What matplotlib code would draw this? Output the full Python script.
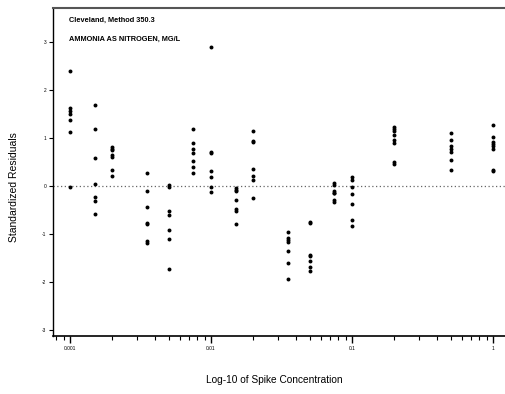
import matplotlib
matplotlib.use("Agg")
import matplotlib.pyplot as plt
from matplotlib.ticker import FixedLocator, NullFormatter, LogLocator

plt.rcParams['font.family'] = ['Liberation Sans', 'DejaVu Sans']

# Spike concentrations (mg/L) and standardized residuals at each level
concentrations = [0.001, 0.0015, 0.002, 0.0035, 0.005, 0.0075, 0.01, 0.015,
                  0.02, 0.035, 0.05, 0.075, 0.1, 0.2, 0.5, 1.0]
residuals = [
    [2.39, 1.63, 1.57, 1.50, 1.37, 1.12, -0.03],
    [1.69, 1.18, 0.59, 0.05, -0.22, -0.32, -0.59],
    [0.82, 0.78, 0.74, 0.64, 0.60, 0.34, 0.20],
    [0.28, -0.10, -0.44, -0.78, -0.80, -1.15, -1.18],
    [0.03, -0.02, -0.53, -0.61, -0.91, -1.11, -1.72],
    [1.19, 0.90, 0.78, 0.69, 0.53, 0.40, 0.28],
    [2.90, 0.70, 0.68, 0.32, 0.19, -0.02, -0.13],
    [-0.05, -0.08, -0.11, -0.29, -0.48, -0.51, -0.80],
    [1.14, 0.93, 0.91, 0.35, 0.20, 0.12, -0.25],
    [-0.95, -1.08, -1.12, -1.17, -1.36, -1.60, -1.93],
    [-0.74, -0.78, -1.43, -1.45, -1.56, -1.69, -1.78],
    [0.07, 0.03, -0.11, -0.14, -0.15, -0.29, -0.33],
    [0.18, 0.12, -0.01, -0.17, -0.37, -0.70, -0.83],
    [1.23, 1.19, 1.14, 1.07, 0.95, 0.90, 0.49, 0.46],
    [1.10, 0.95, 0.83, 0.78, 0.70, 0.55, 0.33],
    [1.27, 1.03, 0.92, 0.88, 0.83, 0.78, 0.34, 0.32],
]
x_tick_values = [0.001, 0.01, 0.1, 1]
x_tick_labels = ["0.001", "0.01", "0.1", "1"]
y_tick_values = [-3, -2, -1, 0, 1, 2, 3]
title_lines = ["Cleveland, Method 350.3", "AMMONIA AS NITROGEN, MG/L"]

fig = plt.figure(figsize=(5.06, 3.94), dpi=100)
ax = fig.add_axes([0.105, 0.147, 0.895, 0.833])

xs, ys = [], []
for c, vals in zip(concentrations, residuals):
    xs.extend([c] * len(vals))
    ys.extend(vals)
ax.scatter(xs, ys, s=8, color='black', linewidths=0, zorder=3)

ax.axhline(0, color='#666666', linestyle=(0, (1, 2)), linewidth=0.9, zorder=2)

ax.set_xscale('log')
ax.set_xlim(0.000759, 1.236)
ax.set_ylim(-3.125, 3.71)

ax.xaxis.set_major_locator(FixedLocator(x_tick_values))
ax.set_xticklabels(x_tick_labels)
ax.xaxis.set_minor_locator(LogLocator(base=10, subs=range(2, 10)))
ax.xaxis.set_minor_formatter(NullFormatter())
ax.set_yticks(y_tick_values)
ax.set_yticklabels([str(v) for v in y_tick_values])

ax.tick_params(axis='x', which='major', direction='out', length=5, width=1,
               labelsize=3.5, pad=2, colors='black')
ax.tick_params(axis='x', which='minor', direction='out', length=3, width=0.8)
ax.tick_params(axis='y', direction='out', length=3, width=0.8,
               labelsize=3.5, pad=2)

ax.spines['right'].set_visible(False)
ax.spines['top'].set_color('#555555')
ax.spines['top'].set_linewidth(1.5)
ax.spines['left'].set_linewidth(1.0)
ax.spines['bottom'].set_linewidth(1.2)

ax.text(0.00098, 3.46, title_lines[0], fontsize=5.3, fontweight='bold',
        ha='left', va='center')
ax.text(0.00098, 3.06, title_lines[1], fontsize=5.3, fontweight='bold',
        ha='left', va='center')

fig.text(0.028, 0.525, "Standardized Residuals", rotation=90, fontsize=7.5,
         ha='center', va='center')
fig.text(0.542, 0.035, "Log-10 of Spike Concentration", fontsize=7.3,
         ha='center', va='center')

fig.savefig("out.png", dpi=100)
